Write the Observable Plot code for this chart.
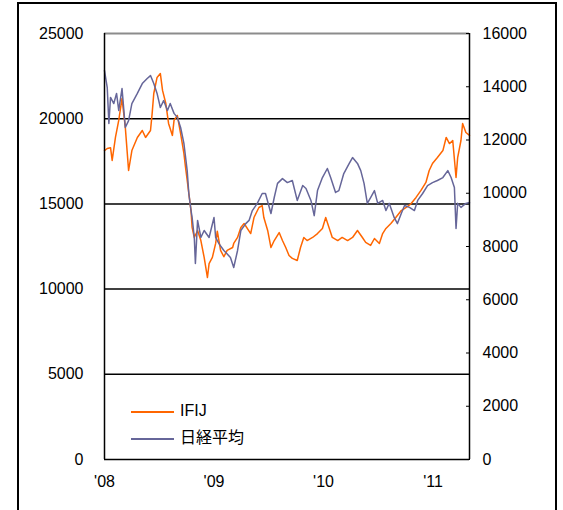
<!DOCTYPE html>
<html><head><meta charset="utf-8">
<script src="https://cdn.jsdelivr.net/npm/d3@7"></script>
<script src="https://cdn.jsdelivr.net/npm/@observablehq/plot@0.6"></script>
<style>
body{margin:0;background:#fff;}
#wrap{position:relative;width:563px;height:510px;overflow:hidden;font-family:"Liberation Sans","Noto Sans CJK JP",sans-serif;}
#frame{position:absolute;left:17px;top:2px;width:536px;height:560px;border:2px solid #000;}
#chart{position:absolute;left:0;top:0;}
.leg{position:absolute;left:131px;height:20px;font-size:16px;line-height:20px;color:#000;white-space:nowrap;}
.leg span.ln{display:inline-block;width:43px;height:2px;vertical-align:middle;margin-right:6px;}
</style></head>
<body>
<div id="wrap">
<div id="frame"></div>
<div id="chart"></div>
<div class="leg" style="top:401px"><span class="ln" style="background:#FF6600"></span>IFIJ</div>
<div class="leg" style="top:428px"><span class="ln" style="background:#666699"></span>日経平均</div>
</div>
<script>
const seriesNames = ["IFIJ", "日経平均"];
const leftTicks = [0, 5000, 10000, 15000, 20000, 25000];
const rightTicks = [0, 2000, 4000, 6000, 8000, 10000, 12000, 14000, 16000];
const yearTicks = [2008, 2009, 2010, 2011];
const xDomain = [2008, 2011.333];

const ifijT = [2008.00,2008.025,2008.055,2008.07,2008.10,2008.13,2008.16,2008.19,2008.22,2008.25,2008.30,2008.345,2008.375,2008.42,2008.435,2008.45,2008.48,2008.51,2008.53,2008.56,2008.585,2008.62,2008.635,2008.665,2008.695,2008.725,2008.74,2008.755,2008.77,2008.79,2008.80,2008.82,2008.85,2008.88,2008.91,2008.94,2008.955,2008.985,2009.015,2009.03,2009.06,2009.09,2009.12,2009.17,2009.18,2009.215,2009.245,2009.275,2009.335,2009.365,2009.41,2009.44,2009.455,2009.49,2009.52,2009.55,2009.595,2009.625,2009.655,2009.685,2009.715,2009.76,2009.79,2009.82,2009.85,2009.90,2009.945,2009.99,2010.02,2010.05,2010.08,2010.13,2010.17,2010.22,2010.265,2010.31,2010.355,2010.385,2010.43,2010.465,2010.51,2010.54,2010.57,2010.615,2010.66,2010.71,2010.755,2010.80,2010.845,2010.89,2010.935,2010.965,2010.995,2011.04,2011.09,2011.12,2011.15,2011.18,2011.21,2011.225,2011.255,2011.27,2011.30,2011.333];
const ifijV = [18130,18250,18300,17550,18900,19900,21190,19490,16960,18130,18900,19310,18900,19310,20300,21480,22420,22650,21660,20890,19720,19020,19900,20190,19130,17960,17140,16400,15610,14610,13620,13030,13440,12850,11860,10680,11500,11860,12680,13400,12270,11900,12270,12440,12680,13030,13620,13850,13260,14200,14790,14900,14200,13440,12440,12850,13320,12850,12440,11970,11800,11680,12440,13030,12850,13030,13260,13560,14200,13620,13030,12850,13030,12850,13030,13440,13030,12740,12560,12970,12680,13260,13560,13850,14200,14610,14790,15020,15380,15790,16260,16960,17370,17720,18130,18900,18540,18720,16550,17720,18720,19720,19190,19020];

const nikkeiT = [2008.00,2008.025,2008.04,2008.055,2008.085,2008.11,2008.13,2008.16,2008.19,2008.22,2008.25,2008.30,2008.345,2008.39,2008.42,2008.45,2008.48,2008.51,2008.54,2008.575,2008.60,2008.635,2008.665,2008.695,2008.725,2008.755,2008.77,2008.79,2008.80,2008.82,2008.83,2008.85,2008.88,2008.91,2008.955,2009.00,2009.015,2009.045,2009.09,2009.15,2009.18,2009.215,2009.245,2009.29,2009.32,2009.35,2009.395,2009.44,2009.47,2009.52,2009.55,2009.58,2009.625,2009.67,2009.715,2009.76,2009.81,2009.84,2009.885,2009.915,2009.945,2009.99,2010.035,2010.065,2010.11,2010.14,2010.185,2010.235,2010.265,2010.31,2010.34,2010.37,2010.40,2010.43,2010.465,2010.495,2010.54,2010.57,2010.60,2010.645,2010.675,2010.71,2010.74,2010.785,2010.83,2010.86,2010.905,2010.95,2010.995,2011.04,2011.09,2011.135,2011.165,2011.195,2011.21,2011.225,2011.255,2011.30,2011.333];
const nikkeiV = [14610,13970,12620,13600,13370,13750,13110,13930,12470,12730,13370,13750,14120,14310,14420,14120,13750,13220,13480,13110,13370,13000,12850,12470,11870,10850,9990,9350,9090,8340,7360,8980,8340,8600,8340,9090,8340,8110,7850,7590,7210,7850,8600,8860,8980,9350,9620,9990,9990,9240,9840,10370,10550,10400,10480,9730,10290,10180,9730,9160,10100,10590,10930,10590,10030,10100,10740,11120,11340,11120,10850,10370,9620,9840,10100,9620,9730,9350,9620,9090,8860,9240,9540,9470,9350,9730,9990,10290,10400,10480,10590,10850,10590,10220,8680,9620,9470,9620,9650];

const k = 25000 / 16000;
const ifij = ifijT.map((t, i) => ({t, v: ifijV[i], s: seriesNames[0]}));
const nikkei = nikkeiT.map((t, i) => ({t, v: nikkeiV[i] * k, s: seriesNames[1]}));

const chart = Plot.plot({
  width: 563, height: 510,
  marginLeft: 104, marginRight: 94, marginTop: 33, marginBottom: 51,
  style: {fontSize: "16px", fontFamily: '"Liberation Sans","Noto Sans CJK JP",sans-serif', color: "#000", background: "transparent"},
  x: {type: "linear", domain: xDomain, label: null},
  y: {domain: [0, 25000], label: null},
  marks: [
    Plot.ruleY(leftTicks.slice(1, -1), {stroke: "#000", strokeWidth: 1.5}),
    Plot.ruleY([leftTicks[leftTicks.length - 1]], {stroke: "#8c8c8c", strokeWidth: 2}),
    Plot.line(ifij, {x: "t", y: "v", stroke: "#FF6600", strokeWidth: 1.5}),
    Plot.line(nikkei, {x: "t", y: "v", stroke: "#666699", strokeWidth: 1.5}),
    Plot.ruleX(xDomain, {stroke: "#000", strokeWidth: 1.5}),
    Plot.ruleY([0], {stroke: "#000", strokeWidth: 1.5}),
    Plot.axisY({anchor: "left", label: null, ticks: leftTicks, tickSize: 0, tickPadding: 21, tickFormat: d => String(d)}),
    Plot.axisY({anchor: "right", label: null, ticks: rightTicks.map(v => v * k), tickSize: -4, tickPadding: 17, tickFormat: d => String(Math.round(d / k))}),
    Plot.axisX({label: null, ticks: yearTicks, tickSize: 0, tickPadding: 16, tickFormat: d => "'" + String(d).slice(2)})
  ]
});
document.getElementById("chart").appendChild(chart);
</script>
</body></html>
